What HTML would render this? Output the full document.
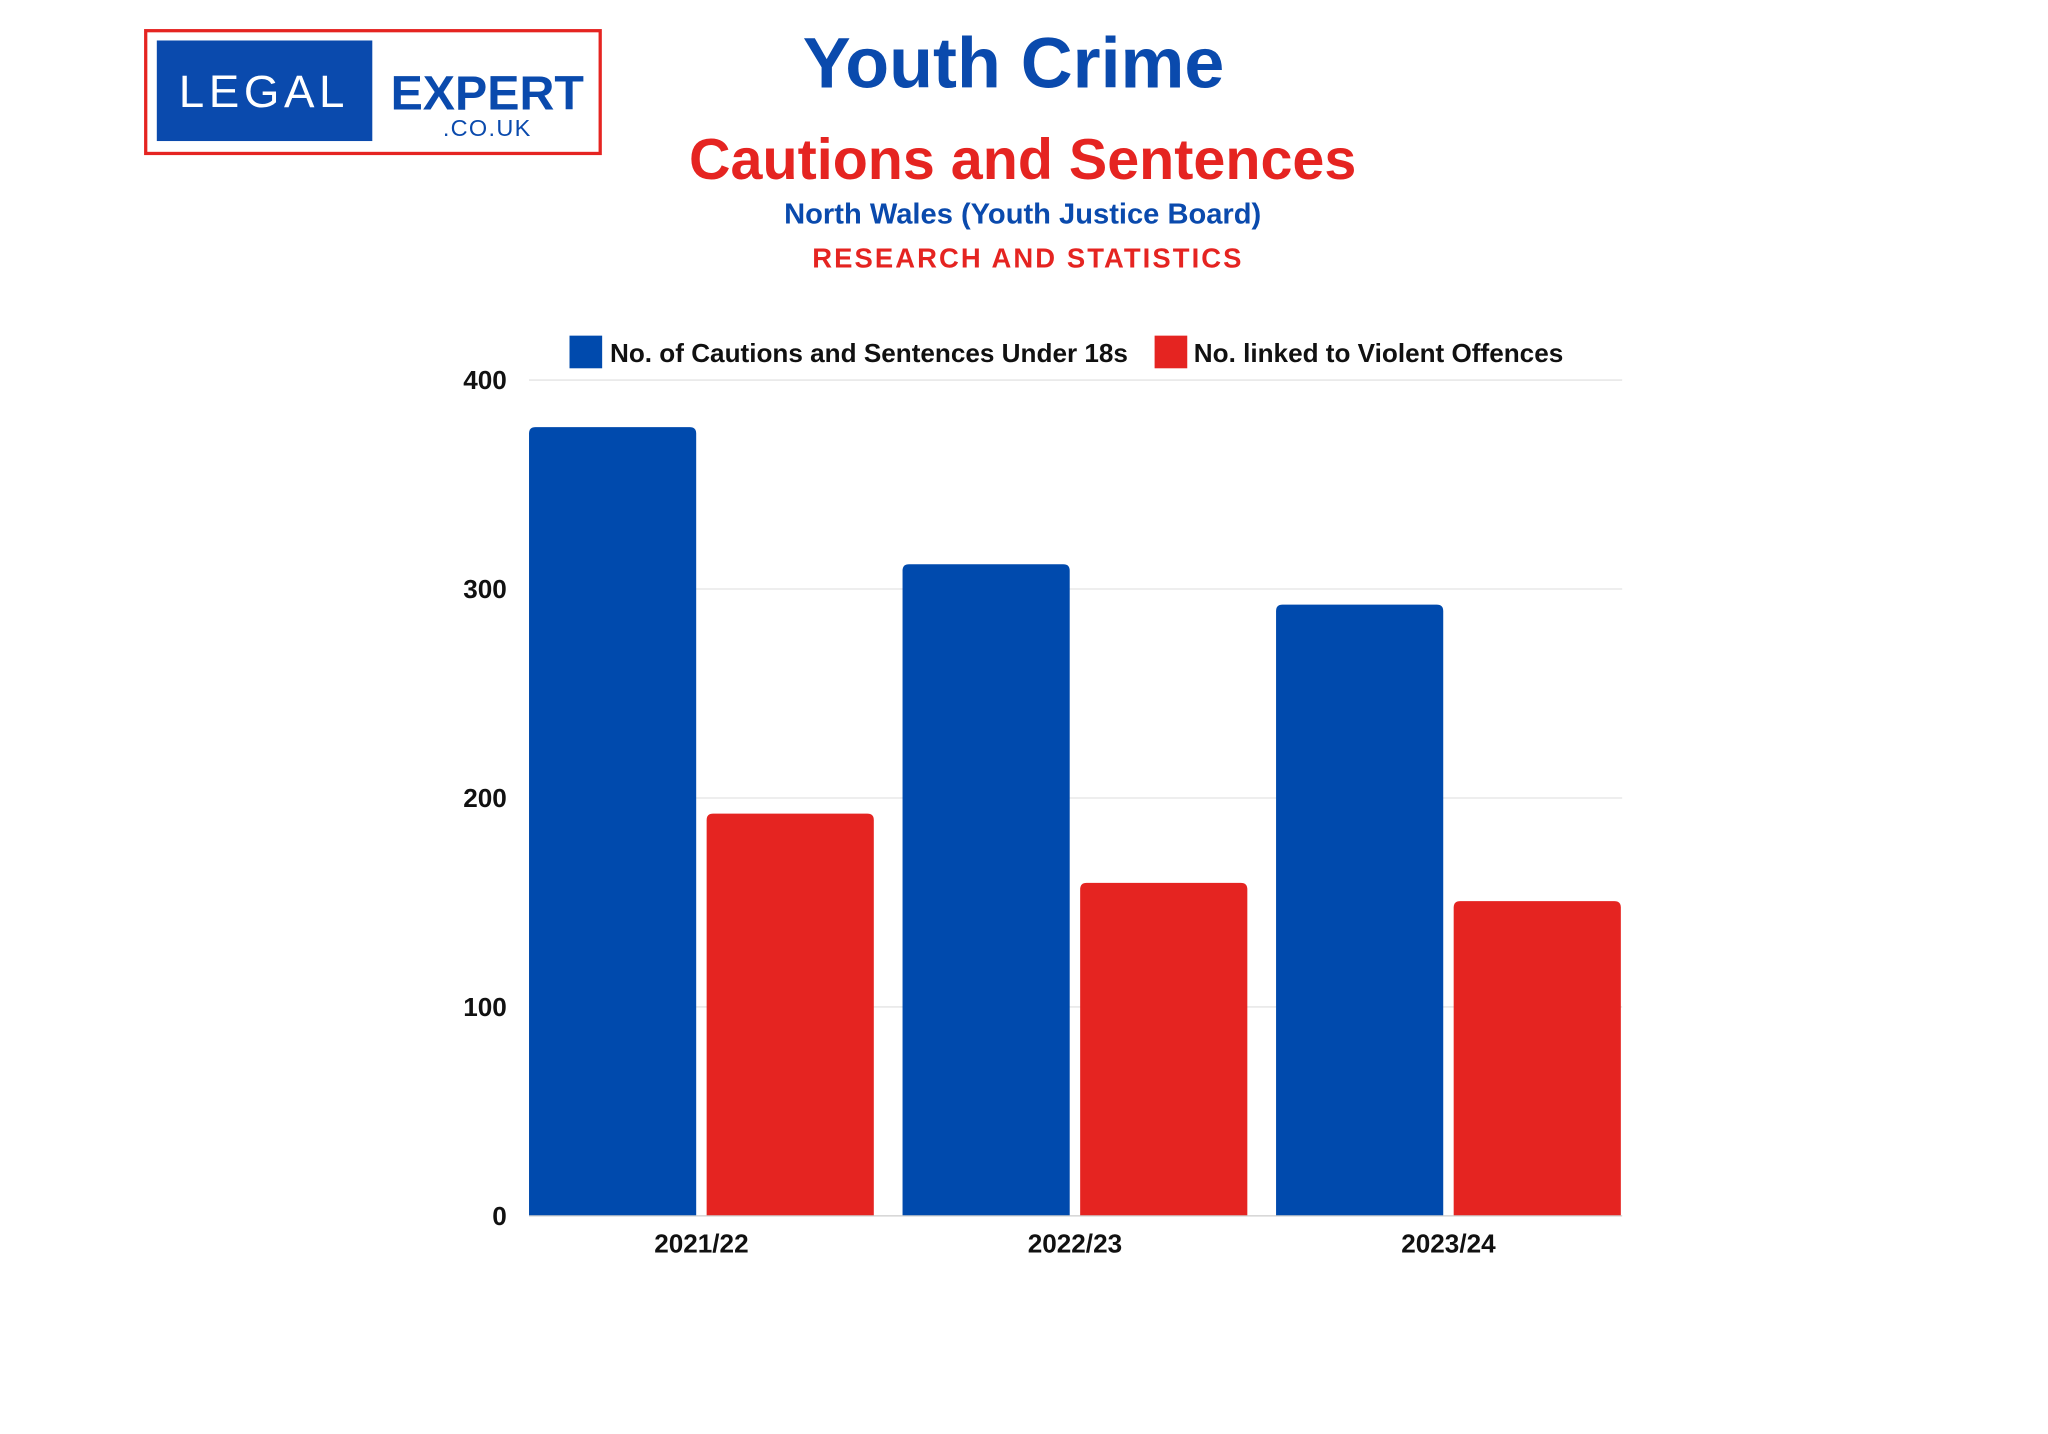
<!DOCTYPE html>
<html><head><meta charset="utf-8"><style>html,body{margin:0;padding:0;background:#fff}svg{display:block}</style></head>
<body>
<svg width="2048" height="1434" viewBox="0 0 1568 1098" xmlns="http://www.w3.org/2000/svg" font-family="Liberation Sans, sans-serif">
<rect width="1568" height="1098" fill="#fff"/>
<rect x="111.5" y="23.5" width="348" height="94" fill="none" stroke="#e52421" stroke-width="2.5"/>
<rect x="120" y="31" width="165" height="77" fill="#0a4aad"/>
<text x="202" y="82" text-anchor="middle" fill="#fff" font-size="35" letter-spacing="3.5">LEGAL</text>
<text x="373" y="84" text-anchor="middle" fill="#0a4aad" font-size="37" font-weight="bold">EXPERT</text>
<text x="373" y="104" text-anchor="middle" fill="#0a4aad" font-size="18" letter-spacing="1">.CO.UK</text>
<text x="776" y="67" text-anchor="middle" fill="#0a4aad" font-size="55" font-weight="bold">Youth Crime</text>
<text x="783" y="137" text-anchor="middle" fill="#e52421" font-size="44" font-weight="bold">Cautions and Sentences</text>
<text x="783" y="171" text-anchor="middle" fill="#0a4aad" font-size="22.3" font-weight="bold">North Wales (Youth Justice Board)</text>
<text x="787" y="205" text-anchor="middle" fill="#e52421" font-size="21" font-weight="bold" letter-spacing="1.6">RESEARCH AND STATISTICS</text>
<rect x="436" y="257" width="25" height="25" fill="#004aad"/>
<text x="467" y="277" font-size="20" font-weight="bold" fill="#111">No. of Cautions and Sentences Under 18s</text>
<rect x="884" y="257" width="25" height="25" fill="#e52421"/>
<text x="914" y="277" font-size="20" font-weight="bold" fill="#111">No. linked to Violent Offences</text>
<g stroke="#e4e4e4" stroke-width="1">
<line x1="405" y1="291" x2="1242" y2="291"/><line x1="405" y1="451" x2="1242" y2="451"/><line x1="405" y1="611" x2="1242" y2="611"/><line x1="405" y1="771" x2="1242" y2="771"/>
</g>
<g font-size="20" font-weight="bold" fill="#111" text-anchor="end">
<text x="388" y="298">400</text><text x="388" y="458">300</text><text x="388" y="618">200</text><text x="388" y="778">100</text><text x="388" y="938">0</text>
</g>
<g fill="#004aad">
<path d="M405 931V332q0-5 5-5h118q5 0 5 5V931z"/>
<path d="M691 931V437q0-5 5-5h118q5 0 5 5V931z"/>
<path d="M977 931V468q0-5 5-5h118q5 0 5 5V931z"/>
</g>
<g fill="#e52421">
<path d="M541 931V628q0-5 5-5h118q5 0 5 5V931z"/>
<path d="M827 931V681q0-5 5-5h118q5 0 5 5V931z"/>
<path d="M1113 931V695q0-5 5-5h118q5 0 5 5V931z"/>
</g>
<line x1="405" y1="931" x2="1242" y2="931" stroke="#ccc" stroke-width="1"/>
<g font-size="20" font-weight="bold" fill="#111" text-anchor="middle">
<text x="537" y="959">2021/22</text><text x="823" y="959">2022/23</text><text x="1109" y="959">2023/24</text>
</g>
</svg>
</body></html>
